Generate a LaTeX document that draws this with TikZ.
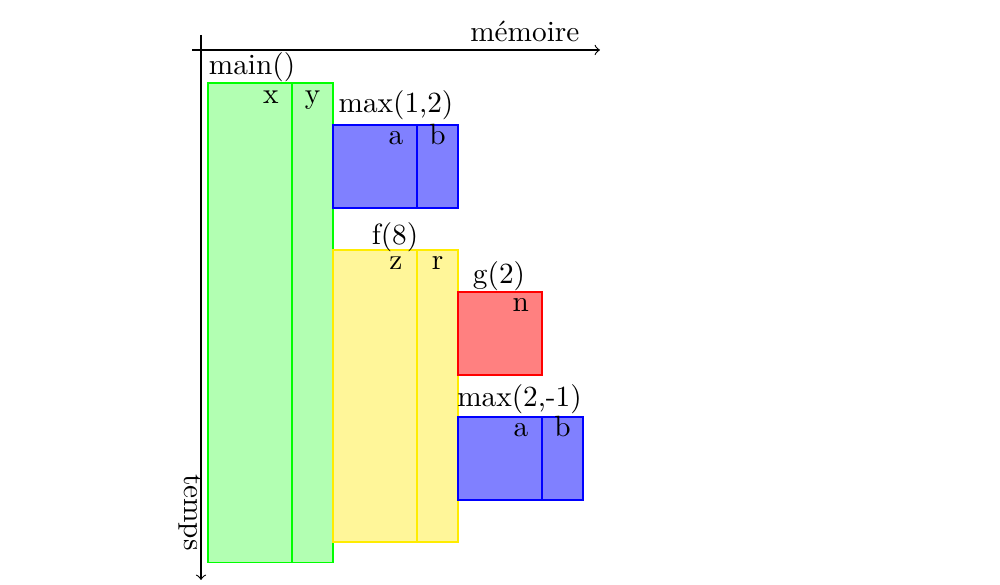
\documentclass[tikz,border=0pt]{standalone}
\usepackage{xcolor}
\usepackage{tikz}
\usetikzlibrary{positioning,calc}

\definecolor{yelfill}{RGB}{255,246,153}
\definecolor{yeldraw}{RGB}{255,236,0}

\begin{document}
\begin{tikzpicture}[
    cell/.style={rectangle, draw, line width=0.65pt, inner sep=0pt, outer sep=0pt, anchor=north west},
    maincell/.style={cell, draw=green, fill=green!30, minimum height=5.75cm},
    maxcell/.style={cell, draw=blue, fill=blue!50, minimum height=1cm},
    fcell/.style={cell, draw=yeldraw, fill=yelfill, minimum height=3.5cm},
    gcell/.style={cell, draw=red, fill=red!50, minimum height=1cm},
    varname/.style={anchor=base, inner sep=0pt},
    fname/.style={anchor=base, inner sep=0pt},
    axis/.style={->}]

    \useasboundingbox (0,0) rectangle (12,-7.02);

    % axes
    \coordinate (mstart) at (2.304,-0.6);
    \coordinate (mend) at (7.2,-0.6);
    \coordinate (tstart) at (2.412,-0.42);
    \coordinate (tend) at (2.412,-6.96);
    \draw[axis] (mstart) -- (mend);
    \draw[axis] (tstart) -- (tend);
    \node[anchor=base east, inner sep=0pt] (memoire) at (6.96,-0.5) {mémoire};
    \node[rotate=-90, anchor=base, inner sep=0pt] (temps) at (2.21,-6.15) {temps};

    % main()
    \node[maincell, minimum width=1cm] (x) at (2.5,-1) {};
    \node[maincell, minimum width=0.5cm, right=0pt of x] (y) {};
    \node[fname, anchor=base west] (mainlbl) at ([yshift=0.1cm]x.north west) {main()};

    % max(1,2)
    \node[maxcell, minimum width=1cm] (a1) at (4,-1.5) {};
    \node[maxcell, minimum width=0.5cm, right=0pt of a1] (b1) {};
    \node[fname] (max1lbl) at (4.752,-1.356) {max(1,2)};

    % f(8)
    \node[fcell, minimum width=1cm] (z) at (4,-3) {};
    \node[fcell, minimum width=0.5cm, right=0pt of z] (r) {};
    \node[fname] (flbl) at (4.74,-2.934) {f(8)};

    % g(2)
    \node[gcell, minimum width=1cm] (n) at (5.5,-3.5) {};
    \node[fname] (glbl) at (5.988,-3.402) {g(2)};

    % max(2,-1)
    \node[maxcell, minimum width=1cm] (a2) at (5.5,-5) {};
    \node[maxcell, minimum width=0.5cm, right=0pt of a2] (b2) {};
    \node[fname] (max2lbl) at (6.234,-4.884) {max(2,-1)};

    % variable names
    \foreach \c/\v in {x/x, y/y, a1/a, b1/b, z/z, r/r, n/n, a2/a, b2/b}
        \node[varname] (\c name) at ([xshift=-0.25cm, yshift=-0.24cm]\c.north east) {\v};

\end{tikzpicture}
\end{document}
